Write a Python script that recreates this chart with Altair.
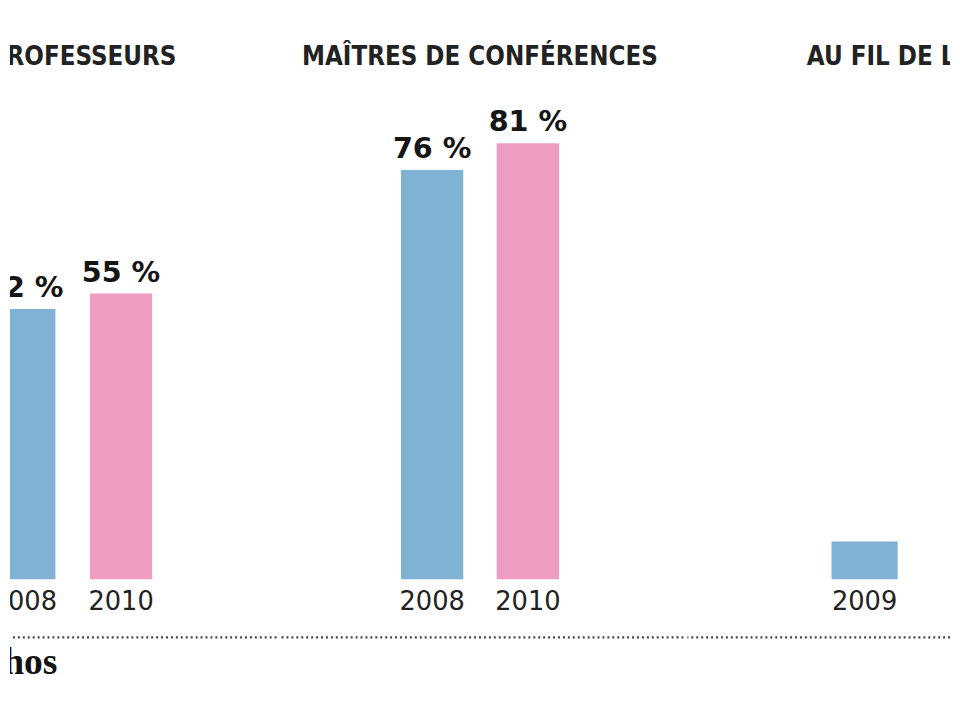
import altair as alt
import pandas as pd

# ---- data ----
p1_years = ["2008", "2010"]
p1_values = [52, 55]
p2_years = ["2008", "2010"]
p2_values = [76, 81]
p3_years = ["2009"]
p3_values = [7]
titles = ["PROFESSEURS", "MAÎTRES DE CONFÉRENCES", "AU FIL DE L'"]
source_text = "Les Echos"

color_years = ["2008", "2009", "2010"]
color_range = ["#7fb2d3", "#7fb2d3", "#ee9cc1"]

TITLE_FONT = "DejaVu Sans Condensed"
FONT = "DejaVu Sans"
H = 690          # panel height
BASE = 574       # pixel row of the zero line inside the panel


def panel(years, values, title, width, xrange, pad_inner, k,
          show_values=True, title_align="center", title_dx=0.0,
          title_band=0.0, title_year=None, logo=False):
    df = pd.DataFrame({"year": years, "value": values,
                       "label": [f"{v} %" for v in values]})
    ydom = [-(H - BASE) / k, BASE / k]
    x = alt.X("year:N", axis=None,
              scale=alt.Scale(domain=years, range=xrange,
                              paddingInner=pad_inner, paddingOuter=0))
    y = alt.Y("value:Q", axis=None,
              scale=alt.Scale(domain=ydom, nice=False, zero=False))
    color = alt.Color("year:N", legend=None,
                      scale=alt.Scale(domain=color_years, range=color_range))
    base = alt.Chart(df)
    layers = []
    layers.append(base.mark_bar(clip=True).encode(
        x=x, y=y, y2=alt.Y2Datum(0), color=color))
    if show_values:
        layers.append(base.mark_text(
            clip=True, dy=-12, baseline="alphabetic", font=FONT,
            fontSize=29, fontWeight="bold", color="#151515").encode(
            x=x, y=y, text="label:N"))
    layers.append(base.mark_text(
        clip=True, dy=31, baseline="alphabetic", font=FONT,
        fontSize=26, color="#222").encode(
        x=x, y=alt.YDatum(0), text="year:N"))
    tdf = pd.DataFrame({"t": [title]})
    tyear = title_year if title_year is not None else years[-1]
    layers.append(alt.Chart(tdf).mark_text(
        clip=True, align=title_align, baseline="alphabetic", dx=title_dx,
        font=TITLE_FONT, fontSize=26, fontWeight="bold",
        color="#222").encode(
        x=alt.XDatum(tyear, type="nominal", bandPosition=title_band),
        y=alt.value(53), text="t:N"))
    layers.append(alt.Chart(tdf).mark_rule(
        yOffset=59, strokeDash=[2, 3], strokeWidth=2.2, color="#444").encode(
        y=alt.YDatum(0)))
    if logo:
        ldf = pd.DataFrame({"t": [source_text]})
        layers.append(alt.Chart(ldf).mark_text(
            clip=True, align="right", baseline="alphabetic", dx=2, dy=96,
            font="Liberation Serif", fontSize=38, fontWeight="bold",
            color="#111").encode(
            x=alt.XDatum(years[0], type="nominal", bandPosition=1),
            y=alt.YDatum(0), text="t:N"))
    return alt.layer(*layers).properties(width=width, height=H)


p1 = panel(p1_years, p1_values, titles[0], 270, [-17, 144], 0.357, 5.26,
           title_dx=-7, logo=True)
p2 = panel(p2_years, p2_values, titles[1], 408, [122, 282], 0.35, 5.45,
           title_dx=-17)
p3 = panel(p3_years, p3_values, titles[2], 266, [146, 213], 0.0, 5.45,
           show_values=False, title_align="left", title_dx=-25)

chart = alt.hconcat(p1, p2, p3, spacing=0, padding=0,
                    background="white").configure_view(strokeWidth=0)

chart.save("out.html", embed_options={"renderer": "svg", "actions": False})
